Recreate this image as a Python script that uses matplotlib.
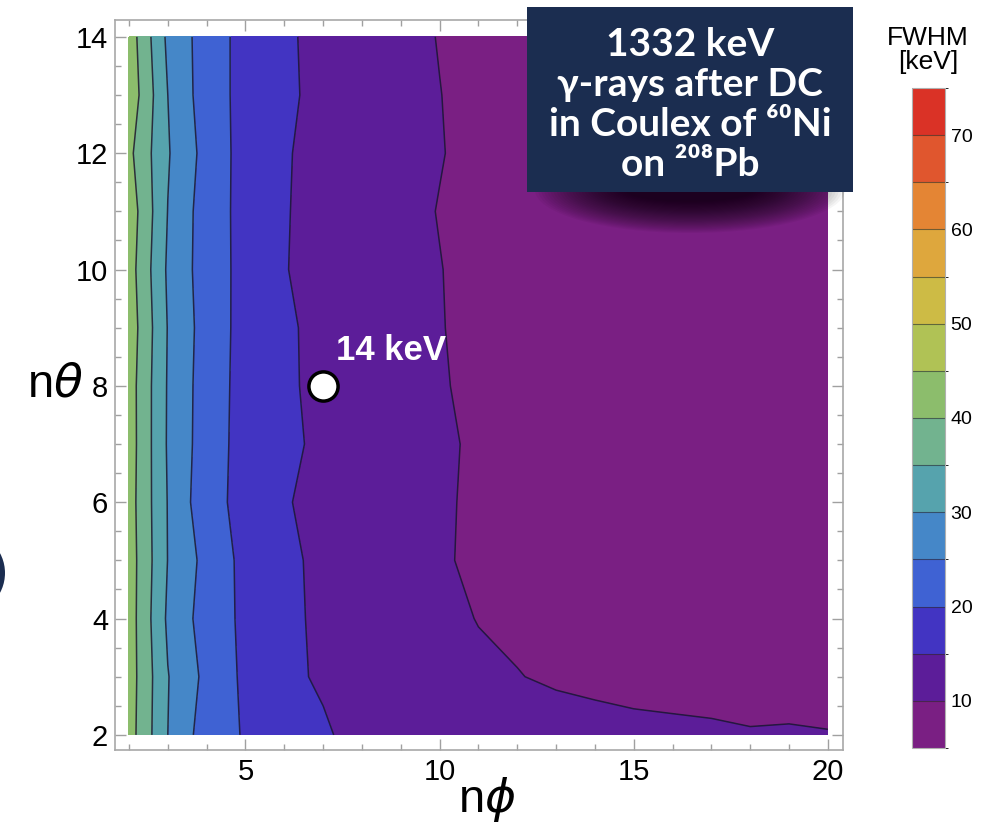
import numpy as np
import matplotlib.pyplot as plt
from matplotlib.colors import ListedColormap, BoundaryNorm
from matplotlib.colorbar import ColorbarBase
from matplotlib.patches import FancyBboxPatch, Ellipse

plt.rcParams['font.family'] = ['Liberation Sans', 'DejaVu Sans']
plt.rcParams['mathtext.fontset'] = 'dejavusans'

# grid of segmentation values
n_phi = [2, 3, 4, 5, 6, 7, 8, 9, 10, 11, 12, 13, 14, 15, 16, 17, 18, 19, 20]
n_theta = [2, 3, 4, 5, 6, 7, 8, 9, 10, 11, 12, 13, 14]

# FWHM [keV], one row per n_theta
fwhm = [
    [42.2, 30.0, 22.4, 19.6, 17.2, 15.6, 13.4, 13.0, 12.7, 12.5, 12.3, 12.0, 11.65, 11.3, 11.15, 10.95, 10.45, 10.7, 10.35],
    [42.45, 30.2, 23.7, 19.0, 16.0, 14.4, 13.0, 12.0, 11.2, 10.6, 10.15, 9.4, 8.9, 8.4, 8.0, 7.6, 7.3, 7.0, 6.7],
    [42.5, 29.2, 22.7, 19.0, 16.2, 14.0, 12.6, 11.6, 10.8, 9.9, 9.2, 8.6, 8.1, 7.6, 7.2, 6.9, 6.6, 6.3, 6.1],
    [42.5, 29.9, 23.4, 18.6, 16.15, 13.8, 12.3, 11.2, 10.35, 9.45, 8.8, 8.2, 7.7, 7.3, 6.9, 6.6, 6.3, 6.0, 5.8],
    [42.2, 29.8, 21.6, 18.6, 15.4, 13.5, 12.2, 11.2, 10.4, 9.5, 8.8, 8.2, 7.7, 7.3, 6.9, 6.6, 6.3, 6.0, 5.8],
    [42.5, 29.5, 22.4, 18.2, 16.3, 13.8, 12.3, 11.2, 10.45, 9.6, 8.8, 8.2, 7.7, 7.3, 6.9, 6.6, 6.3, 6.0, 5.8],
    [42.4, 29.6, 22.5, 18.3, 15.9, 13.6, 12.1, 11.05, 10.25, 9.35, 8.6, 8.05, 7.6, 7.2, 6.8, 6.5, 6.2, 6.0, 5.8],
    [43.0, 29.8, 22.8, 18.3, 15.8, 13.6, 12.1, 10.95, 10.13, 9.25, 8.5, 8.0, 7.5, 7.1, 6.7, 6.4, 6.1, 5.9, 5.7],
    [42.3, 29.3, 22.5, 18.5, 15.2, 13.4, 12.0, 10.9, 10.08, 9.2, 8.5, 7.9, 7.5, 7.1, 6.7, 6.4, 6.1, 5.9, 5.7],
    [43.0, 29.9, 22.4, 18.5, 15.3, 13.4, 12.0, 10.8, 9.9, 9.1, 8.5, 7.9, 7.5, 7.1, 6.7, 6.4, 6.1, 5.9, 5.7],
    [41.2, 30.4, 23.2, 18.1, 15.4, 13.5, 12.0, 10.9, 10.13, 9.25, 8.5, 8.0, 7.5, 7.1, 6.7, 6.4, 6.1, 5.9, 5.7],
    [43.5, 30.0, 22.3, 18.5, 16.0, 13.5, 12.0, 10.9, 10.05, 9.2, 8.5, 8.0, 7.5, 7.1, 6.7, 6.4, 6.1, 5.9, 5.7],
    [42.8, 29.0, 22.6, 18.3, 15.8, 13.5, 12.0, 10.8, 9.9, 9.1, 8.5, 7.9, 7.5, 7.1, 6.7, 6.4, 6.1, 5.9, 5.7],
]

levels = [5, 10, 15, 20, 25, 30, 35, 40, 45, 50, 55, 60, 65, 70, 75]
band_colors = ['#7a1f83', '#5c1d99', '#4234c2', '#3f62d3', '#4587c8', '#56a3ad',
               '#72b38f', '#8cbd6c', '#b0c255', '#cdbb45', '#dea73d', '#e48534',
               '#e0562e', '#da3226']
cbar_ticks = [10, 20, 30, 40, 50, 60, 70]

# marked configuration
best_phi, best_theta = 7, 8

W, H = 1007, 824
fig = plt.figure(figsize=(W / 100, H / 100), dpi=100)


def fx(px):
    return px / W


def fy(py):
    return 1 - py / H


ax = fig.add_axes([fx(115), fy(750), fx(843 - 115), (750 - 20) / H])
ax.set_xlim(1.64, 20.39)
ax.set_ylim(1.74, 14.29)

cmap = ListedColormap(band_colors)
norm = BoundaryNorm(levels, cmap.N)
Z = np.array(fwhm)
ax.contourf(n_phi, n_theta, Z, levels=levels, cmap=cmap, norm=norm)
ax.contour(n_phi, n_theta, Z, levels=levels, colors='#1c1630', linewidths=1.1, alpha=0.85)

ax.set_xticks([5, 10, 15, 20])
ax.set_xticks(range(2, 21), minor=True)
ax.set_yticks([2, 4, 6, 8, 10, 12, 14])
ax.set_yticks(np.arange(2, 14.01, 0.5), minor=True)
ax.tick_params(which='both', direction='in', top=True, right=True, color='#a0a0a0',
               labelsize=21, width=1)
ax.tick_params(which='major', length=8)
ax.tick_params(which='minor', length=4)
ax.tick_params(axis='x', pad=6)
ax.tick_params(axis='y', pad=5)
for s in ax.spines.values():
    s.set_color('#a8a8a8')
    s.set_linewidth(1.2)

ax.plot(best_phi, best_theta, 'o', ms=21, mfc='white', mec='black', mew=2.5, zorder=5)
ax.text(7.32, 8.45, '14 keV', color='white', fontsize=25, fontweight='bold',
        ha='left', va='baseline', zorder=6)

fig.text(fx(487), fy(800), r'n$\phi$', fontsize=34, ha='center', va='center')
fig.text(fx(55), fy(385), r'n$\theta$', fontsize=34, ha='center', va='center')

# colour bar
cax = fig.add_axes([fx(912), fy(748), fx(33), (748 - 88) / H])
cb = ColorbarBase(cax, cmap=cmap, norm=norm, boundaries=levels, ticks=cbar_ticks,
                  drawedges=True)
cb.dividers.set_color('#2a2a2a')
cb.dividers.set_alpha(0.6)
cb.dividers.set_linewidth(0.8)
cb.outline.set_edgecolor('#b0b0b0')
cb.outline.set_linewidth(0.8)
cax.tick_params(length=0, labelsize=14, pad=4)
fig.text(fx(928), fy(50), 'FWHM\n[keV]', fontsize=19, ha='center', va='center',
         linespacing=1.05)

# soft drop shadow under the title box
n_layers = 30
for k in range(n_layers):
    t = k / n_layers
    fig.patches.append(Ellipse((fx(690), fy(190)), fx(310 * (1 - 0.6 * t)),
                               (86 * (1 - 0.75 * t)) / H, transform=fig.transFigure,
                               facecolor='black', alpha=0.04, edgecolor='none'))
fig.patches.append(FancyBboxPatch((fx(527), fy(192)), fx(853 - 527), (192 - 7) / H,
                                  boxstyle='square,pad=0', transform=fig.transFigure,
                                  facecolor='#1b2d50', edgecolor='none'))
box_lines = ['1332 keV', 'γ-rays after DC', 'in Coulex of ⁶⁰Ni', 'on ²⁰⁸Pb']
for i, line in enumerate(box_lines):
    fig.text(fx(690), fy(45 + 40 * i), line, color='white', fontsize=28,
             fontweight='bold', ha='center', va='center', family=['Lato', 'DejaVu Sans'])

# navy disc cut by the left border
fig.patches.append(Ellipse((fx(-37), fy(573)), fx(84), 84 / H, transform=fig.transFigure,
                           facecolor='#1b2d50', edgecolor='none'))

fig.savefig('out.png', dpi=100)
